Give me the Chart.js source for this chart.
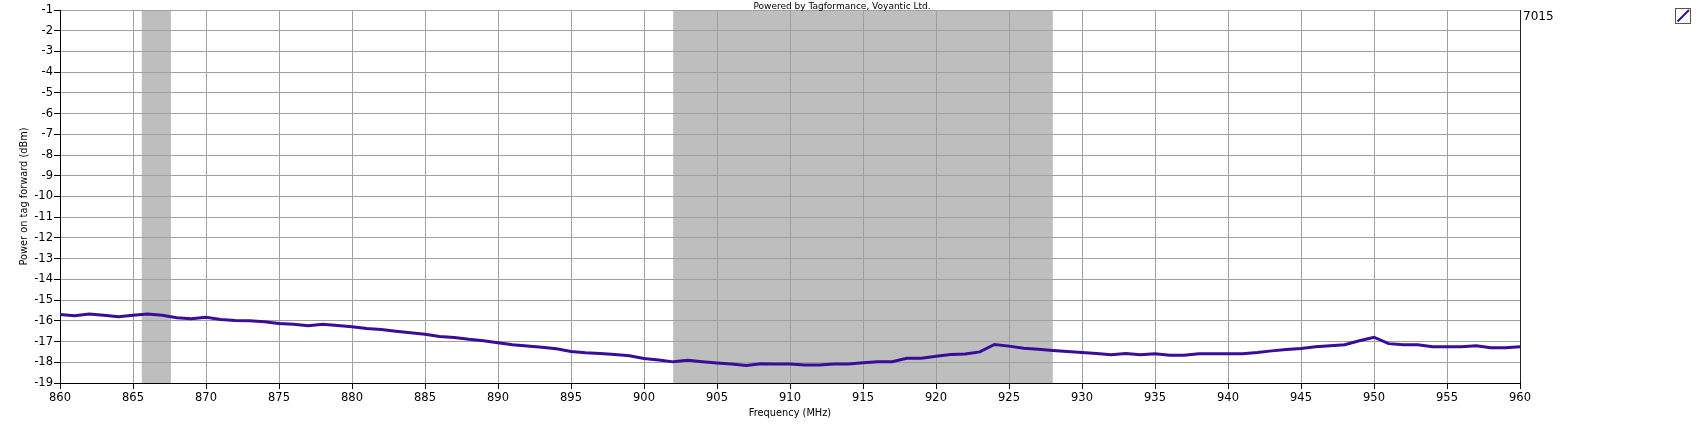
<!DOCTYPE html>
<html>
<head>
<meta charset="utf-8">
<script src="https://cdn.jsdelivr.net/npm/chart.js@4"></script>
<style>
  html, body { margin: 0; padding: 0; background: #fff; }
  #wrap { width: 1704px; height: 435px; }
</style>
</head>
<body>
<div id="wrap"><canvas id="myChart" width="1704" height="435"></canvas></div>
<script>
// frecuencias (MHz)
const freqs = [860, 861, 862, 863, 864, 865, 866, 867, 868, 869,
  870, 871, 872, 873, 874, 875, 876, 877, 878, 879,
  880, 881, 882, 883, 884, 885, 886, 887, 888, 889,
  890, 891, 892, 893, 894, 895, 896, 897, 898, 899,
  900, 901, 902, 903, 904, 905, 906, 907, 908, 909,
  910, 911, 912, 913, 914, 915, 916, 917, 918, 919,
  920, 921, 922, 923, 924, 925, 926, 927, 928, 929,
  930, 931, 932, 933, 934, 935, 936, 937, 938, 939,
  940, 941, 942, 943, 944, 945, 946, 947, 948, 949,
  950, 951, 952, 953, 954, 955, 956, 957, 958, 959, 960];

// potencia sobre el tag (dBm), serie 7015
const power7015 = [-15.70, -15.75, -15.67, -15.73, -15.80, -15.73, -15.67, -15.73, -15.85, -15.90,
  -15.83, -15.93, -15.98, -16.00, -16.04, -16.13, -16.17, -16.24, -16.17, -16.22,
  -16.29, -16.37, -16.42, -16.50, -16.58, -16.65, -16.76, -16.80, -16.89, -16.96,
  -17.06, -17.15, -17.22, -17.28, -17.35, -17.48, -17.54, -17.58, -17.63, -17.69,
  -17.82, -17.89, -17.98, -17.90, -17.97, -18.03, -18.08, -18.15, -18.07, -18.08,
  -18.08, -18.13, -18.13, -18.08, -18.08, -18.02, -17.97, -17.97, -17.81, -17.81,
  -17.71, -17.63, -17.60, -17.50, -17.14, -17.22, -17.32, -17.37, -17.43, -17.48,
  -17.53, -17.58, -17.64, -17.58, -17.64, -17.59, -17.66, -17.66, -17.59, -17.59,
  -17.59, -17.59, -17.53, -17.45, -17.38, -17.33, -17.25, -17.20, -17.15, -16.96,
  -16.79, -17.10, -17.15, -17.15, -17.25, -17.25, -17.25, -17.20, -17.30, -17.30, -17.25];

const seriesName = '7015';
// bandas sombreadas (MHz)
const bands = [[865.6, 867.6], [902, 928]];
const xTicks = [860, 865, 870, 875, 880, 885, 890, 895, 900, 905, 910,
  915, 920, 925, 930, 935, 940, 945, 950, 955, 960];
const yTicks = [-19, -18, -17, -16, -15, -14, -13, -12, -11, -10,
  -9, -8, -7, -6, -5, -4, -3, -2, -1];

const FONT = 'DejaVu Sans';
const lineColor = '#3a0c99';

const bandsPlugin = {
  id: 'bandas',
  beforeDraw(chart) {
    const { ctx, chartArea: a, scales: { x } } = chart;
    ctx.save();
    ctx.fillStyle = '#bebebe';
    bands.forEach(b => {
      const x1 = x.getPixelForValue(b[0]);
      const x2 = x.getPixelForValue(b[1]);
      ctx.fillRect(x1, a.top, x2 - x1, a.bottom - a.top);
    });
    ctx.restore();
  },
  afterDraw(chart) {
    const { ctx, chartArea: a } = chart;
    ctx.save();
    // borde derecho
    ctx.strokeStyle = '#202020';
    ctx.lineWidth = 1;
    ctx.beginPath();
    ctx.moveTo(a.right + 0.5, a.top);
    ctx.lineTo(a.right + 0.5, a.bottom);
    ctx.stroke();
    // texto superior
    ctx.fillStyle = '#000';
    ctx.font = '9px ' + FONT;
    ctx.textAlign = 'center';
    ctx.textBaseline = 'middle';
    ctx.fillText('Powered by Tagformance, Voyantic Ltd.', 842, 7);
    // leyenda
    ctx.textAlign = 'left';
    ctx.font = '12px ' + FONT;
    ctx.fillText(seriesName, a.right + 3, 17);
    ctx.strokeStyle = '#555';
    ctx.strokeRect(1675.5, 8.5, 15, 15);
    ctx.strokeStyle = lineColor;
    ctx.lineWidth = 2;
    ctx.beginPath();
    ctx.moveTo(1677.5, 21.5);
    ctx.lineTo(1689, 10);
    ctx.stroke();
    ctx.restore();
  }
};

const ctx = document.getElementById('myChart');

new Chart(ctx, {
  type: 'line',
  data: {
    datasets: [{
      label: seriesName,
      data: freqs.map((f, i) => ({ x: f, y: power7015[i] })),
      borderColor: lineColor,
      borderWidth: 3,
      pointRadius: 0,
      tension: 0,
      fill: false
    }]
  },
  options: {
    responsive: false,
    animation: false,
    layout: { padding: { left: 0, right: 184, top: 10, bottom: 0 } },
    plugins: {
      legend: { display: false },
      tooltip: { enabled: false }
    },
    scales: {
      x: {
        type: 'linear',
        min: 860,
        max: 960,
        afterBuildTicks: s => { s.ticks = xTicks.map(v => ({ value: v })); },
        afterFit: s => { s.height = 52; },
        grid: { color: '#a0a0a0', tickColor: '#000', tickLength: 6, lineWidth: 1 },
        border: { color: '#000', width: 1 },
        ticks: { color: '#000', font: { family: FONT, size: 11.5 }, padding: 2, maxRotation: 0, autoSkip: false },
        title: {
          display: true,
          text: 'Frequency (MHz)',
          color: '#000',
          font: { family: FONT, size: 9.8 },
          padding: { top: 0, bottom: 16 }
        }
      },
      y: {
        min: -19,
        max: -1,
        afterBuildTicks: s => { s.ticks = yTicks.map(v => ({ value: v })); },
        afterFit: s => { s.width = 60; },
        grid: { color: '#a0a0a0', tickColor: '#000', tickLength: 6, lineWidth: 1 },
        border: { color: '#000', width: 1 },
        ticks: { color: '#000', font: { family: FONT, size: 11.5 }, padding: 1, autoSkip: false },
        title: {
          display: true,
          text: 'Power on tag forward (dBm)',
          color: '#000',
          font: { family: FONT, size: 9.8 },
          padding: { top: 19, bottom: 0 }
        }
      }
    }
  },
  plugins: [bandsPlugin]
});
</script>
</body>
</html>
